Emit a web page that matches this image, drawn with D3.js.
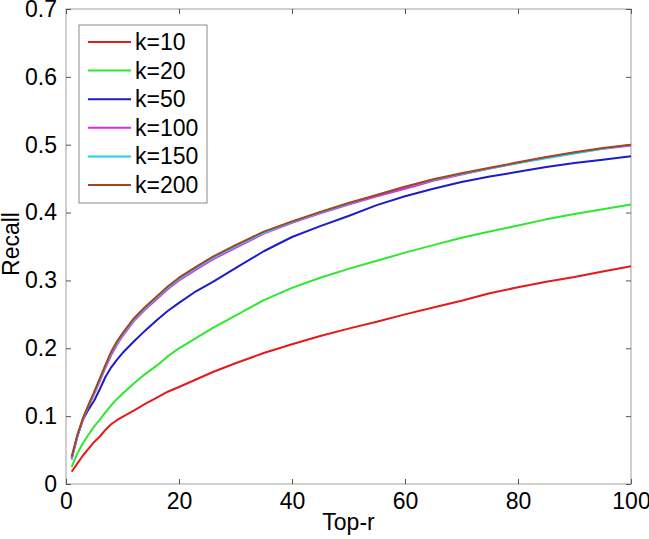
<!DOCTYPE html>
<html>
<head>
<meta charset="utf-8">
<script src="https://cdn.jsdelivr.net/npm/d3@7"></script>
<style>
  body { margin: 0; background: #fff; }
  svg { display: block; font-family: "Liberation Sans", Arial, sans-serif; }
</style>
</head>
<body>
<svg id="chart" width="649" height="539"></svg>
<script>
// Top-r positions where values were read
var topR = [1,2,3,4,5,6,7,8,9,10,12,14,16,18,20,23,26,30,35,40,45,50,55,60,65,70,75,80,85,90,95,100];

var recallK10  = [0.018,0.030,0.042,0.052,0.062,0.070,0.080,0.088,0.094,0.099,0.108,0.118,0.127,0.136,0.143,0.154,0.165,0.178,0.193,0.206,0.218,0.229,0.239,0.250,0.260,0.270,0.281,0.290,0.298,0.305,0.313,0.321];
var recallK20  = [0.025,0.045,0.060,0.073,0.085,0.095,0.106,0.116,0.125,0.133,0.148,0.162,0.174,0.188,0.200,0.215,0.230,0.248,0.271,0.289,0.304,0.317,0.329,0.341,0.352,0.363,0.372,0.381,0.390,0.398,0.405,0.412];
var recallK50  = [0.038,0.070,0.095,0.110,0.123,0.140,0.158,0.172,0.183,0.193,0.210,0.226,0.241,0.255,0.267,0.284,0.298,0.318,0.343,0.364,0.380,0.395,0.411,0.424,0.435,0.445,0.453,0.460,0.467,0.473,0.478,0.483];
var recallK100 = [0.036,0.070,0.095,0.115,0.133,0.152,0.172,0.190,0.205,0.218,0.240,0.257,0.272,0.287,0.300,0.316,0.331,0.348,0.369,0.385,0.399,0.412,0.424,0.435,0.447,0.456,0.465,0.473,0.481,0.488,0.494,0.499];
var recallK150 = [0.038,0.071,0.096,0.116,0.134,0.154,0.174,0.193,0.207,0.220,0.242,0.259,0.274,0.289,0.302,0.318,0.333,0.350,0.370,0.386,0.400,0.413,0.426,0.438,0.448,0.457,0.465,0.473,0.480,0.487,0.494,0.500];
var recallK200 = [0.040,0.072,0.097,0.117,0.136,0.156,0.176,0.195,0.210,0.222,0.244,0.261,0.276,0.291,0.304,0.320,0.335,0.352,0.372,0.387,0.401,0.414,0.426,0.438,0.449,0.458,0.466,0.474,0.482,0.489,0.495,0.500];

var seriesNames = ['k=10','k=20','k=50','k=100','k=150','k=200'];
var seriesValues = [recallK10, recallK20, recallK50, recallK100, recallK150, recallK200];
var seriesColors = ['#e31a1c','#2ee82e','#1c1cc8','#e625e6','#1fd0ec','#a8421f'];

var xTicks = [0,20,40,60,80,100];
var yTicks = [0,0.1,0.2,0.3,0.4,0.5,0.6,0.7];

var svg = d3.select('#chart');
var plotL = 66, plotR = 631, plotT = 9, plotB = 484;
var fontSize = '23px';

var x = d3.scaleLinear().domain([0,100]).range([plotL, plotR]);
var y = d3.scaleLinear().domain([0,0.7]).range([plotB, plotT]);

// box
svg.append('rect')
  .attr('x', plotL).attr('y', plotT)
  .attr('width', plotR - plotL).attr('height', plotB - plotT)
  .attr('fill', 'none').attr('stroke', '#a0a0a0').attr('stroke-width', 1);

function styleAxis(g, showText) {
  g.select('.domain').remove();
  g.selectAll('.tick line').attr('stroke', '#555');
  g.selectAll('.tick text')
    .attr('fill', showText ? '#000' : 'none')
    .style('font-size', fontSize);
}

svg.append('g').attr('transform', 'translate(0,' + plotB + ')')
  .call(d3.axisBottom(x).tickValues(xTicks).tickSize(-5).tickPadding(9).tickFormat(d3.format('d')))
  .call(function(g){ styleAxis(g, true); });
svg.append('g').attr('transform', 'translate(0,' + plotT + ')')
  .call(d3.axisTop(x).tickValues(xTicks).tickSize(-5).tickFormat(''))
  .call(function(g){ styleAxis(g, false); });
svg.append('g').attr('transform', 'translate(' + plotL + ',0)')
  .call(d3.axisLeft(y).tickValues(yTicks).tickSize(-5).tickPadding(9).tickFormat(function(d){ return d === 0 ? '0' : d3.format('.1f')(d); }))
  .call(function(g){ styleAxis(g, true); });
svg.append('g').attr('transform', 'translate(' + plotR + ',0)')
  .call(d3.axisRight(y).tickValues(yTicks).tickSize(-5).tickFormat(''))
  .call(function(g){ styleAxis(g, false); });

// curves
var line = d3.line()
  .x(function(d, i){ return x(topR[i]); })
  .y(function(d){ return y(d); });

svg.append('g').selectAll('path')
  .data(seriesValues)
  .join('path')
  .attr('d', line)
  .attr('fill', 'none')
  .attr('stroke', function(d, i){ return seriesColors[i]; })
  .attr('stroke-width', 2)
  .attr('stroke-linejoin', 'round');

// labels
svg.append('text')
  .attr('x', (plotL + plotR) / 2).attr('y', 530)
  .attr('text-anchor', 'middle')
  .style('font-size', fontSize)
  .text('Top-r');
svg.append('text')
  .attr('transform', 'translate(19,244) rotate(-90)')
  .attr('text-anchor', 'middle')
  .style('font-size', fontSize)
  .text('Recall');

// legend
var legend = svg.append('g');
legend.append('rect')
  .attr('x', 79).attr('y', 25).attr('width', 128).attr('height', 178)
  .attr('fill', '#fff').attr('stroke', '#8a8a8a').attr('stroke-width', 1);

var rows = legend.selectAll('g.row')
  .data(seriesNames)
  .join('g')
  .attr('class', 'row')
  .attr('transform', function(d, i){ return 'translate(0,' + (42 + i * 28.6) + ')'; });
rows.append('line')
  .attr('x1', 88).attr('x2', 131)
  .attr('stroke', function(d, i){ return seriesColors[i]; })
  .attr('stroke-width', 2);
rows.append('text')
  .attr('x', 135).attr('dy', '0.35em')
  .style('font-size', fontSize)
  .text(function(d){ return d; });
</script>
</body>
</html>
